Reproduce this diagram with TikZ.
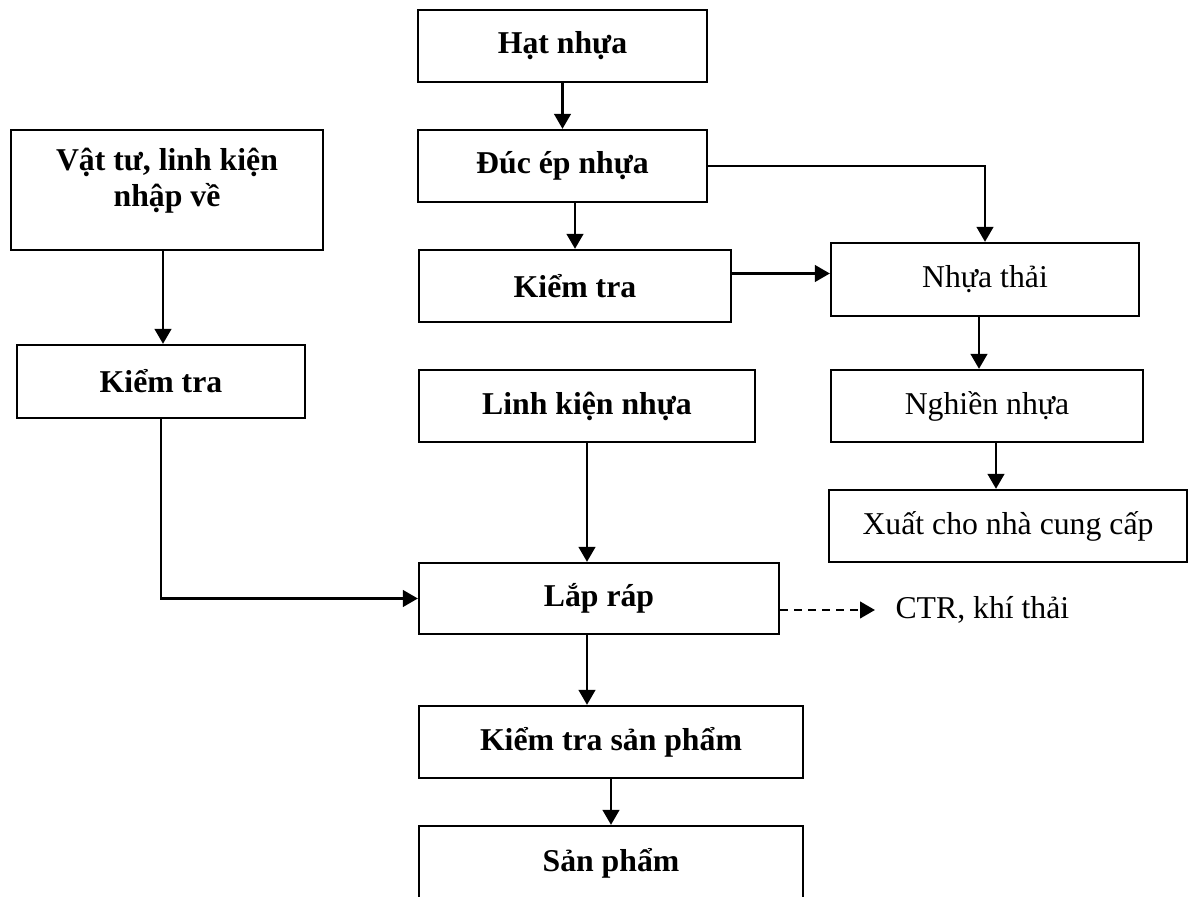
\documentclass[tikz,border=0pt]{standalone}
\usepackage{fontspec}
\setmainfont{Liberation Serif}
\usetikzlibrary{positioning,arrows.meta}
\tikzset{
  wh/.style 2 args = {minimum width=#1*0.4pt, minimum height=#2*0.4pt},
  box/.style       = {draw, line width=0.9pt, inner sep=0pt, font=\fontsize{12.7}{14.6}\selectfont\bfseries},
  boxr/.style      = {box, font=\fontsize{12.7}{14.6}\selectfont},
  note/.style      = {font=\fontsize{12.7}{14.6}\selectfont, inner xsep=8pt, inner ysep=0pt},
  flow/.style      = {-{Triangle[length=6pt,width=6.6pt]}, line width=1.1pt},
  flowdash/.style  = {flow, dash pattern=on 3.2pt off 2.4pt},
}
\begin{document}
\begin{tikzpicture}[x=0.4pt,y=-0.4pt]
\clip (0,0) rectangle (1189,897);

% ---------- main line ----------------------------------------------------
\node[box, wh={289}{72}] (hat)      at (562.5,46)  {Hạt nhựa};
\node[box, wh={289}{72}] (ducep)    at (562.5,166) {Đúc ép nhựa};
\node[box, wh={312}{72}] (ktmid)    at (575,286)   {Kiểm tra};
\node[box, wh={336}{72}] (linhkien) at (587,406)   {Linh kiện nhựa};
\node[box, wh={360}{71}] (laprap)   at (599,598.5) {Lắp ráp};
\node[box, wh={384}{72}] (ktsp)     at (611,742)   {Kiểm tra sản phẩm};
\node[box, wh={384}{74}] (sanpham)  at (611,863)   {Sản phẩm};

% ---------- bought-in parts ----------------------------------------------
\node[box, wh={312}{120}, align=center, text depth=10pt] (vattu) at (167,190)
  {Vật tư, linh kiện\\nhập về};
\node[box, wh={288}{73}] (ktleft) at (161,381.5) {Kiểm tra};

% ---------- scrap plastic ------------------------------------------------
\node[boxr, wh={308}{73}] (nhuathai) at (985,279.5) {Nhựa thải};
\node[boxr, wh={312}{72}] (nghien)   at (987,406)   {Nghiền nhựa};
\node[boxr, wh={358}{72}] (xuat)     at (1008,526)  {Xuất cho nhà cung cấp};

\node[note, anchor=west] (ctr) at (875,610) {CTR, khí thải};

% ---------- connectors ---------------------------------------------------
\draw[flow] (hat.south) -- (ducep.north);
\draw[flow] (ducep.south -| ktmid.north) -- (ktmid.north);
\draw[flow] (ducep.east) -| (nhuathai.north);
\coordinate (ntin) at ([yshift=2.4pt]nhuathai.west);
\draw[flow] (ktmid.east |- ntin) -- (ntin);
\draw[flow] (linhkien.south) -- (linhkien.south |- laprap.north);

\draw[flow] ([xshift=-2.4pt]nhuathai.south) -- ([xshift=-2.4pt]nhuathai.south |- nghien.north);
\draw[flow] ([xshift=3.6pt]nghien.south) -- ([xshift=3.6pt]nghien.south |- xuat.north);

\draw[flow] ([xshift=0.8pt]vattu.south -| ktleft.north) -- ([xshift=0.8pt]ktleft.north);
\draw[flow] (ktleft.south) |- (laprap.west);

\draw[flow] (laprap.south -| linhkien.south) -- (ktsp.north -| linhkien.south);
\draw[flow] (ktsp.south) -- (sanpham.north);
\draw[flowdash] (laprap.east |- ctr.west) -- (ctr.west);

\end{tikzpicture}
\end{document}
